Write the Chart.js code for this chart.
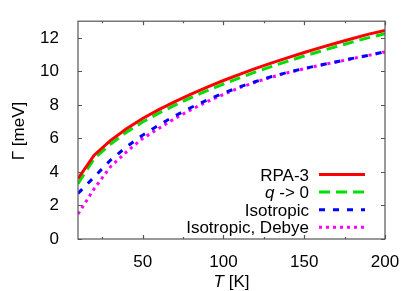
<!DOCTYPE html>
<html>
<head>
<meta charset="utf-8">
<script src="https://cdn.jsdelivr.net/npm/chart.js@4/dist/chart.umd.min.js"></script>
<style>
  body { margin: 0; background: #fff; }
  canvas { display: block; }
</style>
</head>
<body>
<canvas id="chart" width="415" height="291"></canvas>
<script>
const temps = [10, 20, 30, 40, 50, 60, 70, 80, 90, 100, 110, 120, 130, 140, 150, 160, 170, 180, 190, 200];
const rpa3 = [3.6, 5.0, 5.87, 6.58, 7.19, 7.72, 8.2, 8.65, 9.07, 9.46, 9.83, 10.18, 10.51, 10.83, 11.13, 11.42, 11.7, 11.97, 12.23, 12.45];
const qZero = [3.3, 4.8, 5.66, 6.37, 6.98, 7.51, 7.99, 8.44, 8.86, 9.25, 9.62, 9.97, 10.3, 10.62, 10.92, 11.21, 11.49, 11.76, 12.02, 12.25];
const isotropic = [2.72, 3.7, 4.7, 5.5, 6.2, 6.8, 7.35, 7.85, 8.3, 8.7, 9.08, 9.4, 9.7, 9.95, 10.18, 10.38, 10.58, 10.78, 10.97, 11.17];
const isoDebye = [1.49, 3.0, 4.3, 5.2, 6.0, 6.6, 7.2, 7.72, 8.2, 8.63, 9.03, 9.37, 9.67, 9.93, 10.16, 10.37, 10.57, 10.77, 10.96, 11.16];

const xTicks = [50, 100, 150, 200];
const xMinorTicks = [25, 75, 125, 175];
const yTicks = [0, 2, 4, 6, 8, 10, 12];

const series = [
  { label: "RPA-3", values: rpa3, color: "#ff0000", dash: [] },
  { label: "q -> 0", values: qZero, color: "#00e000", dash: [11, 6] },
  { label: "Isotropic", values: isotropic, color: "#0000ff", dash: [6, 8] },
  { label: "Isotropic, Debye", values: isoDebye, color: "#ff00ff", dash: [3, 4] },
];

const FONT = "'Liberation Sans', Arial, sans-serif";

// frame, inward ticks, axis titles and the legend
const decorations = {
  id: "decorations",
  afterDraw(chart) {
    const { ctx, chartArea: a, scales } = chart;
    const x = scales.x, y = scales.y;
    ctx.save();
    ctx.strokeStyle = "#555";
    ctx.lineWidth = 1.2;
    ctx.setLineDash([]);
    ctx.strokeRect(a.left, a.top, a.right - a.left, a.bottom - a.top);

    ctx.beginPath();
    const xt = (vals, len) => vals.forEach(v => {
      const px = Math.round(x.getPixelForValue(v)) + 0.5;
      ctx.moveTo(px, a.bottom); ctx.lineTo(px, a.bottom - len);
      ctx.moveTo(px, a.top); ctx.lineTo(px, a.top + len);
    });
    xt(xTicks, 4);
    xt(xMinorTicks, 2);
    yTicks.forEach(v => {
      const py = Math.round(y.getPixelForValue(v)) + 0.5;
      ctx.moveTo(a.left, py); ctx.lineTo(a.left + 4, py);
      ctx.moveTo(a.right, py); ctx.lineTo(a.right - 4, py);
    });
    ctx.stroke();

    // axis titles
    ctx.fillStyle = "#000";
    ctx.font = "17px " + FONT;
    ctx.save();
    ctx.translate(19, 131);
    ctx.rotate(-Math.PI / 2);
    ctx.textAlign = "center";
    ctx.textBaseline = "middle";
    ctx.fillText("Γ [meV]", 0, 0);
    ctx.restore();

    ctx.textBaseline = "alphabetic";
    ctx.textAlign = "left";
    const rest = " [K]";
    ctx.font = "italic 17px " + FONT;
    const wT = ctx.measureText("T").width;
    ctx.font = "17px " + FONT;
    const wR = ctx.measureText(rest).width;
    const x0 = (a.left + a.right) / 2 - (wT + wR) / 2;
    ctx.font = "italic 17px " + FONT;
    ctx.fillText("T", x0, 287);
    ctx.font = "17px " + FONT;
    ctx.fillText(rest, x0 + wT, 287);

    // legend
    const rows = [174.5, 192, 209.7, 227.3];
    const textRight = 309, lineL = 319, lineR = 365;
    series.forEach((s, i) => {
      const ry = rows[i];
      ctx.fillStyle = "#000";
      ctx.textAlign = "left";
      if (s.label.startsWith("q ")) {
        const tail = s.label.slice(1);
        ctx.font = "italic 17px " + FONT;
        const wq = ctx.measureText("q").width;
        ctx.font = "17px " + FONT;
        const wt = ctx.measureText(tail).width;
        ctx.font = "italic 17px " + FONT;
        ctx.fillText("q", textRight - wq - wt, ry + 6);
        ctx.font = "17px " + FONT;
        ctx.fillText(tail, textRight - wt, ry + 6);
      } else {
        ctx.font = "17px " + FONT;
        ctx.textAlign = "right";
        ctx.fillText(s.label, textRight, ry + 6);
      }
      ctx.strokeStyle = s.color;
      ctx.lineWidth = 3;
      ctx.lineCap = "butt";
      ctx.setLineDash(s.dash);
      ctx.beginPath();
      ctx.moveTo(lineL, ry);
      ctx.lineTo(lineR, ry);
      ctx.stroke();
    });
    ctx.restore();
  }
};

new Chart(document.getElementById("chart"), {
  type: "line",
  data: {
    datasets: series.map(s => ({
      label: s.label,
      data: temps.map((t, i) => ({ x: t, y: s.values[i] })),
      borderColor: s.color,
      borderWidth: 3,
      borderDash: s.dash,
      borderCapStyle: "butt",
      pointRadius: 0,
      tension: 0,
      fill: false,
    })),
  },
  options: {
    responsive: false,
    animation: false,
    devicePixelRatio: 1,
    layout: { padding: { left: 0, top: 20, right: 30, bottom: 0 } },
    plugins: { legend: { display: false }, tooltip: { enabled: false } },
    scales: {
      x: {
        type: "linear",
        min: 10,
        max: 200,
        grid: { display: false },
        border: { display: false },
        afterBuildTicks: scale => { scale.ticks = xTicks.map(v => ({ value: v })); },
        afterFit: scale => { scale.height = 52; },
        ticks: { color: "#000", font: { family: FONT, size: 17 }, padding: 5, maxRotation: 0 },
      },
      y: {
        min: 0,
        max: 13,
        grid: { display: false },
        border: { display: false },
        afterBuildTicks: scale => { scale.ticks = yTicks.map(v => ({ value: v })); },
        afterFit: scale => { scale.width = 78; },
        ticks: { color: "#000", font: { family: FONT, size: 17 }, padding: 11 },
      },
    },
  },
  plugins: [decorations],
});
</script>
</body>
</html>
